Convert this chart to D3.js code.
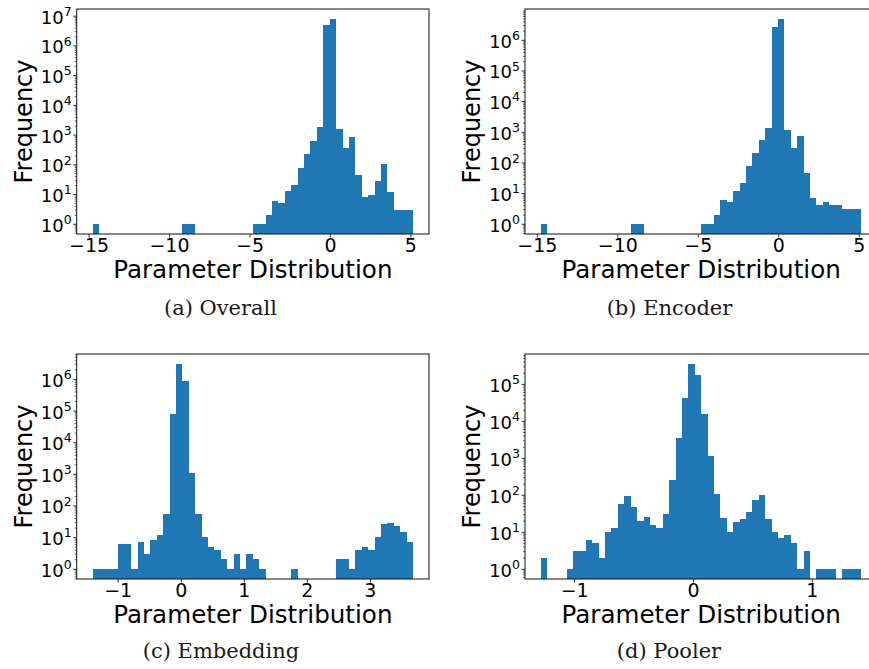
<!DOCTYPE html>
<html>
<head>
<meta charset="utf-8">
<script src="https://cdn.jsdelivr.net/npm/d3@7/dist/d3.min.js"></script>
<style>
  body { margin: 0; background: #fff; }
  svg { display: block; }
</style>
</head>
<body>
<svg id="fig" width="869" height="669"></svg>
<script>
// ---- Data: 50 equal-width bins between each range's min and max ----
const overallRange = [-14.74, 5.16];
const overallCounts = [
  1, 0, 0, 0, 0, 0, 0, 0, 0, 0, 0, 0, 0, 0, 1, 1, 0, 0, 0, 0, 0, 0, 0, 0, 0,
  1, 1, 2, 6, 5, 13, 20, 76, 223, 610, 1800, 4800000, 7600000, 1540, 363, 830,
  44, 8, 9, 28, 103, 12, 3, 3, 3
];

const encoderRange = [-14.74, 5.16];
const encoderCounts = [
  1, 0, 0, 0, 0, 0, 0, 0, 0, 0, 0, 0, 0, 0, 1, 1, 0, 0, 0, 0, 0, 0, 0, 0, 0,
  1, 1, 2, 6, 5, 12, 21, 74, 209, 550, 1350, 2600000, 4700000, 1170, 305, 750,
  44, 7, 4, 5, 4, 4, 3, 3, 3
];

const embeddingRange = [-1.396, 3.683];
const embeddingCounts = [
  1, 1, 1, 1, 6, 6, 1, 7, 3, 8, 12, 54, 78000, 2900000, 850000, 1070, 54, 10, 5, 4,
  2, 1, 3, 1, 3, 2, 1, 0, 0, 0, 0, 1, 0, 0, 0, 0, 0, 0, 2, 2,
  1, 4, 5, 4, 10, 26, 28, 23, 15, 7
];

const poolerRange = [-1.279, 1.416];
const poolerCounts = [
  2, 0, 0, 0, 1, 3, 3, 6, 5, 2, 10, 13, 55, 91, 46, 20, 25, 15, 13, 30,
  245, 3400, 41000, 340000, 170000, 15000, 1100, 103, 23, 10, 18, 22, 34, 71, 98,
  22, 10, 7, 8, 5, 1, 3, 0, 1, 1, 1, 0, 1, 1, 1
];

const wideXTicks = [-15, -10, -5, 0, 5];
const embeddingXTicks = [-1, 0, 1, 2, 3];
const poolerXTicks = [-1, 0, 1];

const overallYExp = [0, 1, 2, 3, 4, 5, 6, 7];
const encoderYExp = [0, 1, 2, 3, 4, 5, 6];
const embeddingYExp = [0, 1, 2, 3, 4, 5, 6];
const poolerYExp = [0, 1, 2, 3, 4, 5];

const captions = ["(a) Overall", "(b) Encoder", "(c) Embedding", "(d) Pooler"];
const xLabel = "Parameter Distribution";
const yLabel = "Frequency";

// ---- Panels ----
const panels = [
  { range: overallRange, counts: overallCounts, xTicks: wideXTicks, yExp: overallYExp },
  { range: encoderRange, counts: encoderCounts, xTicks: wideXTicks, yExp: encoderYExp },
  { range: embeddingRange, counts: embeddingCounts, xTicks: embeddingXTicks, yExp: embeddingYExp },
  { range: poolerRange, counts: poolerCounts, xTicks: poolerXTicks, yExp: poolerYExp }
];

// ---- Layout ----
const plotW = 352.3, plotH = 225;
const layout = [
  { left: 76.7, top: 9, capX: 220.5, capY: 315 },
  { left: 525, top: 9, capX: 669.5, capY: 315 },
  { left: 76.7, top: 354, capX: 221, capY: 658 },
  { left: 525, top: 354, capX: 669, capY: 658 }
];

const barColor = "#1f77b4";
const sansFont = "'DejaVu Sans', sans-serif";
const serifFont = "'DejaVu Serif', serif";

const svg = d3.select("#fig");

panels.forEach((P, i) => {
  const L = layout[i];
  const [lo, hi] = P.range;
  const span = hi - lo;
  const nBins = P.counts.length;
  const bw = span / nBins;

  const x = d3.scaleLinear()
    .domain([lo - 0.05 * span, hi + 0.05 * span])
    .range([0, plotW]);

  const logMax = Math.log10(d3.max(P.counts));
  const y = d3.scaleLog()
    .domain([Math.pow(10, -0.05 * logMax), Math.pow(10, 1.05 * logMax)])
    .range([plotH, 0]);

  const g = svg.append("g").attr("transform", `translate(${L.left},${L.top})`);

  const clipId = "clip" + i;
  g.append("clipPath").attr("id", clipId)
    .append("rect").attr("width", plotW).attr("height", plotH);

  const bins = P.counts
    .map((c, k) => ({ x0: lo + k * bw, x1: lo + (k + 1) * bw, c }))
    .filter(d => d.c > 0);

  g.append("g").attr("clip-path", `url(#${clipId})`)
    .selectAll("rect").data(bins).join("rect")
    .attr("x", d => x(d.x0))
    .attr("width", d => x(d.x1) - x(d.x0))
    .attr("y", d => y(d.c))
    .attr("height", d => plotH - y(d.c))
    .attr("fill", barColor)
    .attr("shape-rendering", "crispEdges");

  // x axis
  const xAxis = g.append("g").attr("transform", `translate(0,${plotH})`)
    .call(d3.axisBottom(x).tickValues(P.xTicks).tickSize(3.5).tickPadding(1.3).tickFormat(d3.format("d")));
  xAxis.select(".domain").remove();
  xAxis.selectAll("line").attr("stroke", "#000").attr("stroke-width", 0.8);
  xAxis.selectAll("text").attr("font-family", sansFont).attr("font-size", 19).attr("fill", "#000");

  // y axis: minor ticks
  const [dLo, dHi] = y.domain().map(Math.log10);
  const minor = [];
  for (let e = Math.floor(dLo); e <= Math.ceil(dHi); e++) {
    for (let k = 2; k <= 9; k++) {
      const v = k * Math.pow(10, e);
      if (v >= y.domain()[0] && v <= y.domain()[1]) minor.push(v);
    }
  }
  const yMinor = g.append("g")
    .call(d3.axisLeft(y).tickValues(minor).tickSize(2).tickFormat(""));
  yMinor.select(".domain").remove();
  yMinor.selectAll("line").attr("stroke", "#000").attr("stroke-width", 0.6);

  // y axis: major ticks with 10^n labels
  const yAxis = g.append("g")
    .call(d3.axisLeft(y).tickValues(P.yExp.map(e => Math.pow(10, e))).tickSize(3.5).tickPadding(1.5).tickFormat(""));
  yAxis.select(".domain").remove();
  yAxis.selectAll("line").attr("stroke", "#000").attr("stroke-width", 0.8);
  yAxis.selectAll(".tick text").each(function (d) {
    const t = d3.select(this)
      .attr("font-family", sansFont).attr("font-size", 18).attr("fill", "#000")
      .attr("dy", 7.5);
    t.append("tspan").text("10");
    t.append("tspan").attr("dy", -7.7).attr("font-size", 12.5).text(Math.round(Math.log10(d)));
  });

  // frame
  g.append("rect").attr("width", plotW).attr("height", plotH)
    .attr("fill", "none").attr("stroke", "#111").attr("stroke-width", 1);

  // axis titles
  g.append("text")
    .attr("x", plotW / 2).attr("y", plotH + 43.7)
    .attr("text-anchor", "middle")
    .attr("font-family", sansFont).attr("font-size", 24.6).attr("fill", "#000")
    .text(xLabel);

  g.append("text")
    .attr("transform", `translate(-45,${plotH / 2}) rotate(-90)`)
    .attr("text-anchor", "middle")
    .attr("font-family", sansFont).attr("font-size", 24).attr("fill", "#000")
    .text(yLabel);

  // caption
  svg.append("text")
    .attr("x", L.capX).attr("y", L.capY)
    .attr("text-anchor", "middle")
    .attr("font-family", serifFont).attr("font-size", 21).attr("fill", "#1a1a1a")
    .text(captions[i]);
});
</script>
</body>
</html>
